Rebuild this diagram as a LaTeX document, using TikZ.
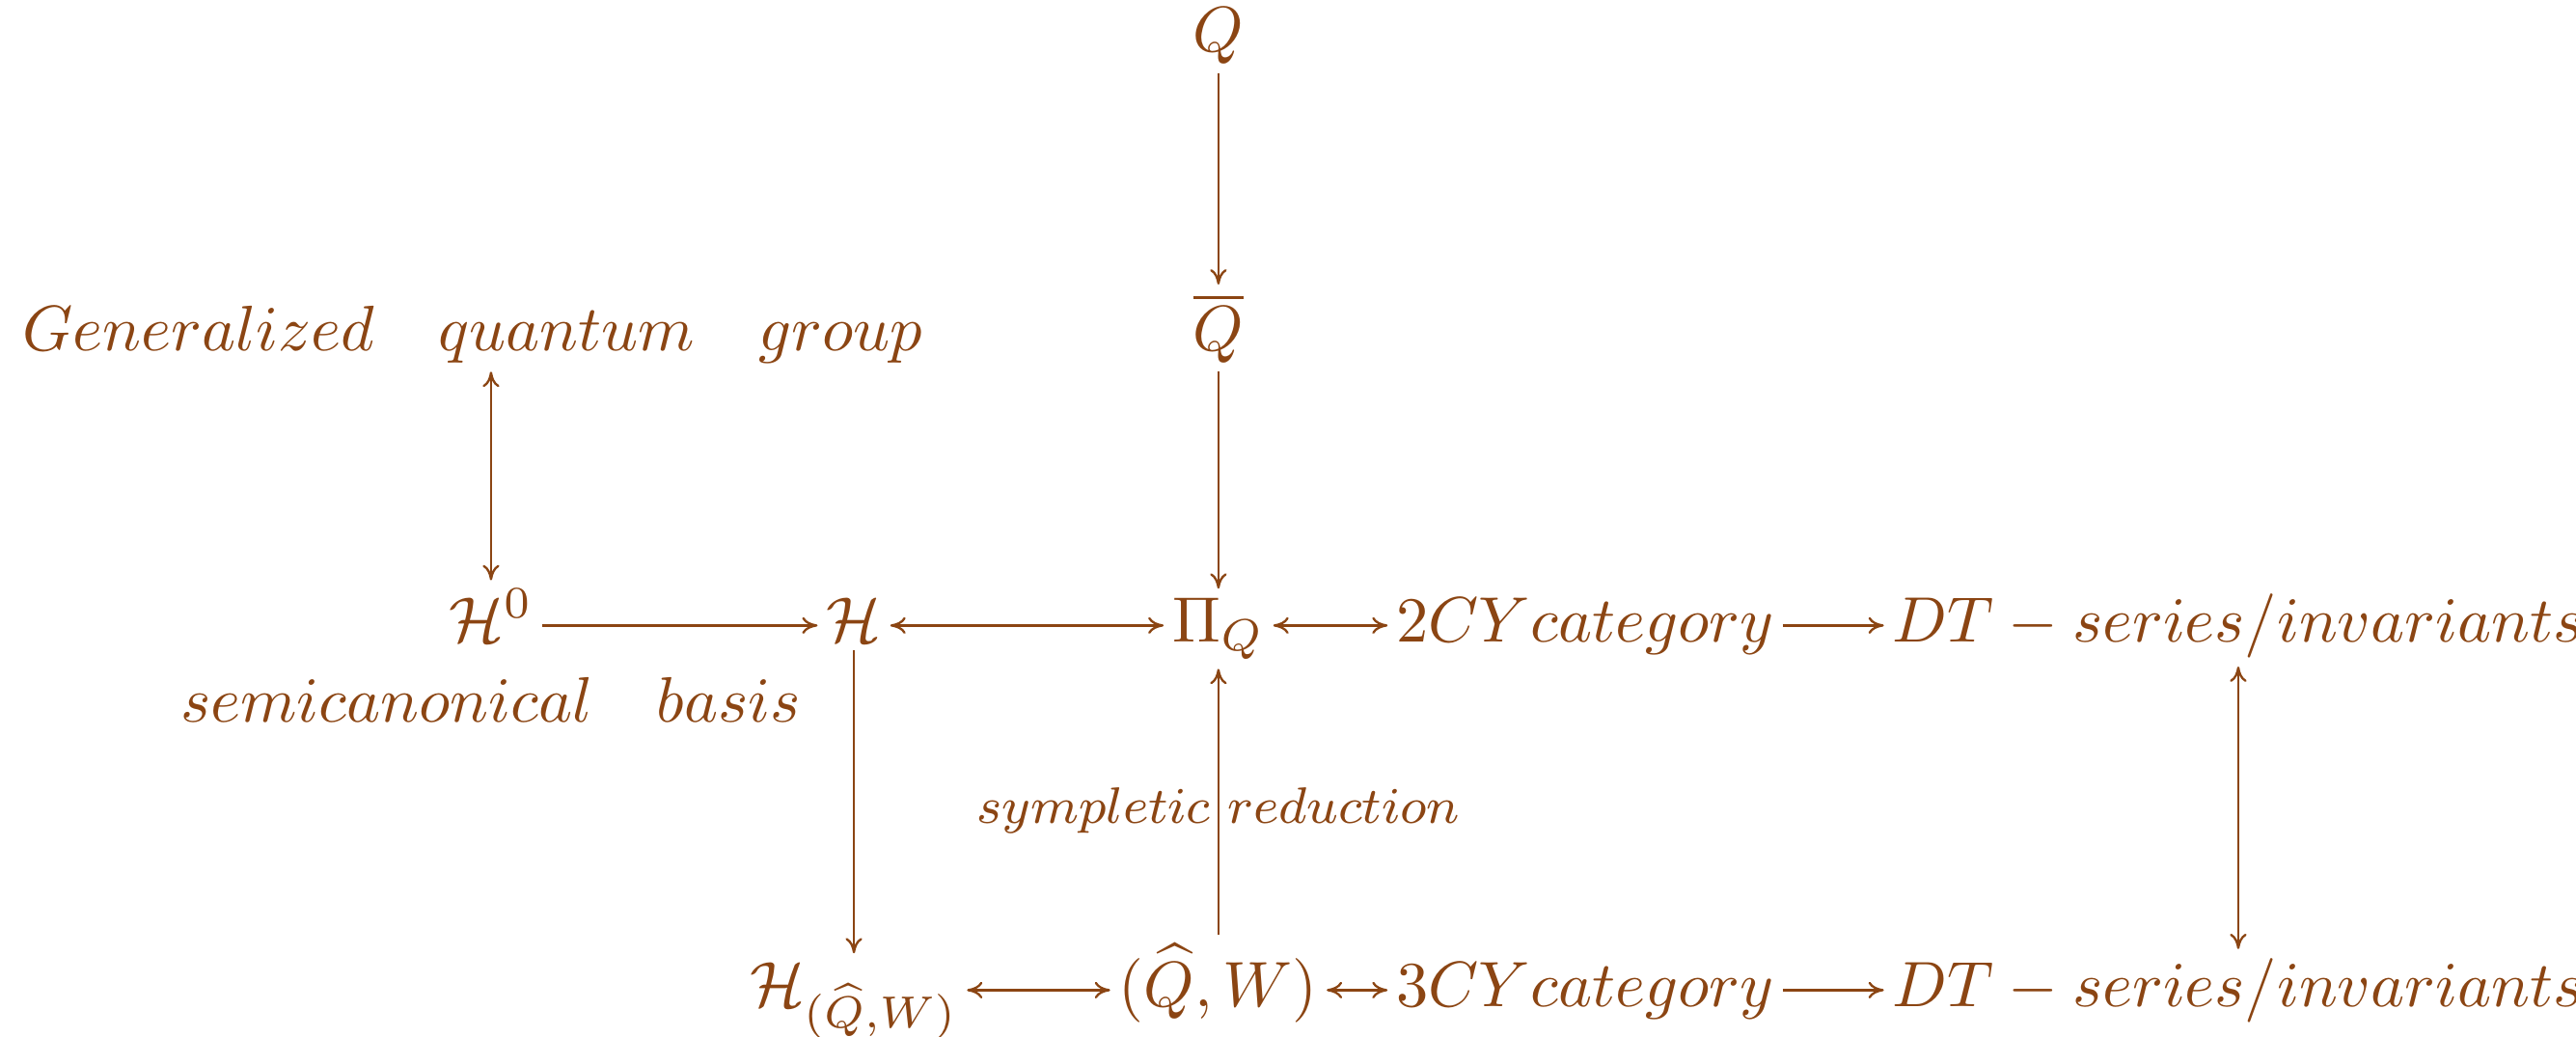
\documentclass[tikz,border=0pt]{standalone}
\usepackage{amsmath}
\usetikzlibrary{arrows.meta}
\definecolor{quiverbrown}{RGB}{139,69,19}

\begin{document}
\begin{tikzpicture}[
  every node/.style={text=quiverbrown},
  obj/.style={anchor=base, inner sep=1.4pt, outer sep=0pt},
  map/.style={-{Computer Modern Rightarrow[length=2.4pt,width=2.6pt]}, line width=0.35pt, draw=quiverbrown},
  iso/.style={{Computer Modern Rightarrow[length=2.4pt,width=2.6pt]}-{Computer Modern Rightarrow[length=2.4pt,width=2.6pt]},
    line width=0.35pt, draw=quiverbrown},
  maplabel/.style={inner sep=0pt, font=\fontsize{7.7}{9}\selectfont, yshift=-1.3pt}
]

\def\W{14.112}
\def\Ht{5.677}
\def\colA{2.690}
\def\colB{4.678}
\def\colC{6.675}
\def\colD{8.684}
\def\colE{12.262}
\def\rowA{5.392}
\def\rowB{3.758}
\def\rowC{2.162}
\def\rowS{1.723}
\def\rowD{0.164}
\def\ax{2.5pt}

\useasboundingbox (0,0) rectangle (\W,\Ht);

% Objects.
\node[obj] (Q) at (\colC,\rowA) {$Q$};
\node[obj] (Qbar) at (\colC,\rowB) {$\overline{Q}$};
\node[obj] (gqg) at (\colA-0.1,\rowB) {$Generalized \quad quantum \quad group$};
\node[obj] (H0) at (\colA,\rowC) {$\mathcal{H}^0$};
\node[obj] (scb) at (\colA,\rowS) {$semicanonical \quad basis$};
\node[obj] (H) at (\colB,\rowC) {$\mathcal{H}$};
\node[obj] (PiQ) at (\colC,\rowC) {$\Pi_Q$};
\node[obj] (twoCY) at (\colD,\rowC) {$2CY category$};
\node[obj] (DTtwo) at (\colE,\rowC) {$DT - series/invariants$};
\node[obj] (HQW) at (\colB,\rowD) {$\mathcal{H}_{(\widehat{Q},W)}$};
\node[obj] (QW) at (\colC,\rowD) {$(\widehat{Q},W)$};
\node[obj] (threeCY) at (\colD,\rowD) {$3CY category$};
\node[obj] (DTthree) at (\colE,\rowD) {$DT - series/invariants$};

% Vertical maps.
\draw[map] (Q) -- (Qbar);
\draw[map] (Qbar) -- (PiQ);
\draw[iso] (H0) -- (H0 |- gqg.south);
\draw[map] (H) -- (HQW);
\draw[map] (QW) -- node[maplabel, midway] {$sympletic\ reduction$} (PiQ);
\draw[iso] (DTtwo) -- (DTthree);

% Horizontal maps, drawn at the math axis.
\draw[map] ([yshift=\ax]H0.base east) -- ([yshift=\ax]H.base west);
\draw[iso] ([yshift=\ax]H.base east) -- ([yshift=\ax]PiQ.base west);
\draw[iso] ([yshift=\ax]PiQ.base east) -- ([yshift=\ax]twoCY.base west);
\draw[map] ([yshift=\ax]twoCY.base east) -- ([yshift=\ax]DTtwo.base west);
\draw[iso] ([yshift=\ax]HQW.base east) -- ([yshift=\ax]QW.base west);
\draw[iso] ([yshift=\ax]QW.base east) -- ([yshift=\ax]threeCY.base west);
\draw[map] ([yshift=\ax]threeCY.base east) -- ([yshift=\ax]DTthree.base west);

\end{tikzpicture}
\end{document}
